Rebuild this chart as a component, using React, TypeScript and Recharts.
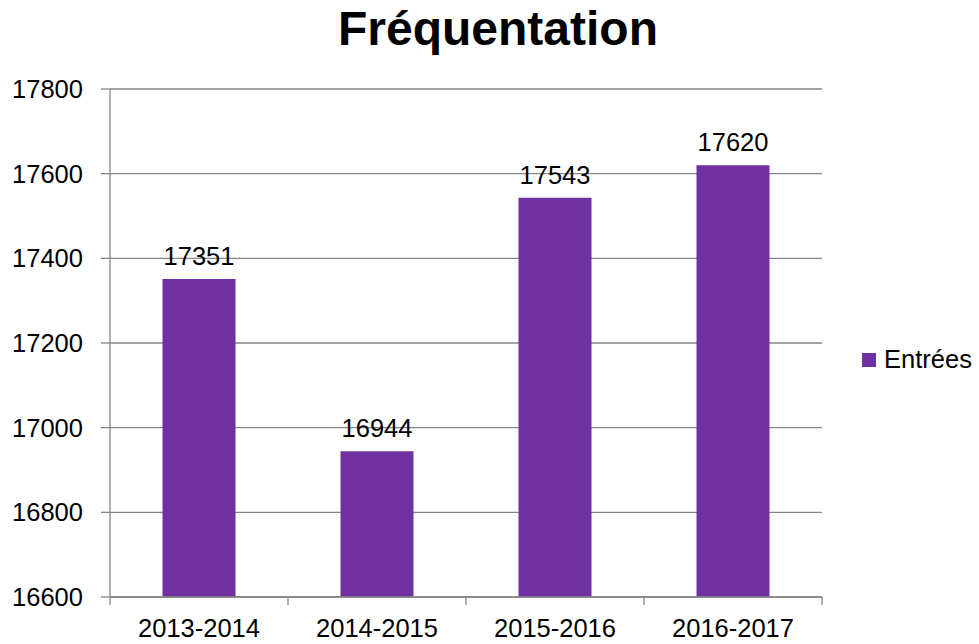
import { BarChart, Bar, XAxis, YAxis, CartesianGrid, Legend, LabelList } from 'recharts';

const seasons = ['2013-2014', '2014-2015', '2015-2016', '2016-2017'];
const entrees = [17351, 16944, 17543, 17620];
const yTicks = [16600, 16800, 17000, 17200, 17400, 17600, 17800];

const data = seasons.map((season, i) => ({ season, entrees: entrees[i] }));

const FONT = '"Liberation Sans", Arial, sans-serif';
const GREY = '#868686';
const PURPLE = '#7030A0';
const FS = 25.5;
const TICK_MARGIN = 22;
const TICK_LEN = 8;

// Excel-style category ticks: marks sit on the band edges, labels in the middle
const SeasonTick = (props: any) => {
  const { x, y, payload, index } = props;
  const half = payload.offset || 0;
  const axisY = y - TICK_MARGIN;
  const isLast = index === seasons.length - 1;
  return (
    <g>
      <line x1={x - half} x2={x - half} y1={axisY} y2={axisY + TICK_LEN} stroke={GREY} strokeWidth={1.3} />
      {isLast && <line x1={x + half} x2={x + half} y1={axisY} y2={axisY + TICK_LEN} stroke={GREY} strokeWidth={1.3} />}
      <text x={x} y={y} dy="0.71em" textAnchor="middle" fill="#000" fontSize={FS} fontFamily={FONT}>
        {payload.value}
      </text>
    </g>
  );
};

const LegendBox = () => (
  <div style={{ paddingLeft: 40, fontFamily: FONT, fontSize: FS, color: '#000', display: 'flex', alignItems: 'center' }}>
    <span style={{ display: 'inline-block', width: 14, height: 14, background: PURPLE, marginRight: 8 }} />
    <span>Entrées</span>
  </div>
);

export default function App() {
  return (
    <div style={{ position: 'absolute', left: 0, top: 0, width: 979, height: 644, fontFamily: FONT }}>
      <div
        style={{
          position: 'absolute',
          left: 0,
          width: 996,
          top: 5,
          textAlign: 'center',
          fontSize: 48,
          lineHeight: '48px',
          fontWeight: 'bold',
        }}
      >
        Fréquentation
      </div>
      <BarChart width={979} height={644} data={data} margin={{ top: 89, right: 0, bottom: 0, left: 0 }} barCategoryGap="29.5%">
        <CartesianGrid vertical={false} stroke={GREY} strokeWidth={1.3} />
        <XAxis
          dataKey="season"
          tickLine={false}
          tickSize={0}
          tickMargin={TICK_MARGIN}
          height={47}
          axisLine={{ stroke: GREY, strokeWidth: 1.3 }}
          tick={<SeasonTick />}
          interval={0}
        />
        <YAxis
          domain={[16600, 17800]}
          ticks={yTicks}
          width={110}
          tickSize={9}
          tickMargin={18}
          tickLine={{ stroke: GREY, strokeWidth: 1.3 }}
          axisLine={{ stroke: GREY, strokeWidth: 1.3 }}
          tick={{ fill: '#000', fontSize: FS, fontFamily: FONT }}
          allowDataOverflow
        />
        <Legend
          layout="vertical"
          align="right"
          verticalAlign="middle"
          wrapperStyle={{ width: 157, top: 345 }}
          content={() => <LegendBox />}
        />
        <Bar dataKey="entrees" name="Entrées" fill={PURPLE} isAnimationActive={false}>
          <LabelList dataKey="entrees" position="top" offset={14} fill="#000" fontSize={FS} fontFamily={FONT} />
        </Bar>
      </BarChart>
    </div>
  );
}
